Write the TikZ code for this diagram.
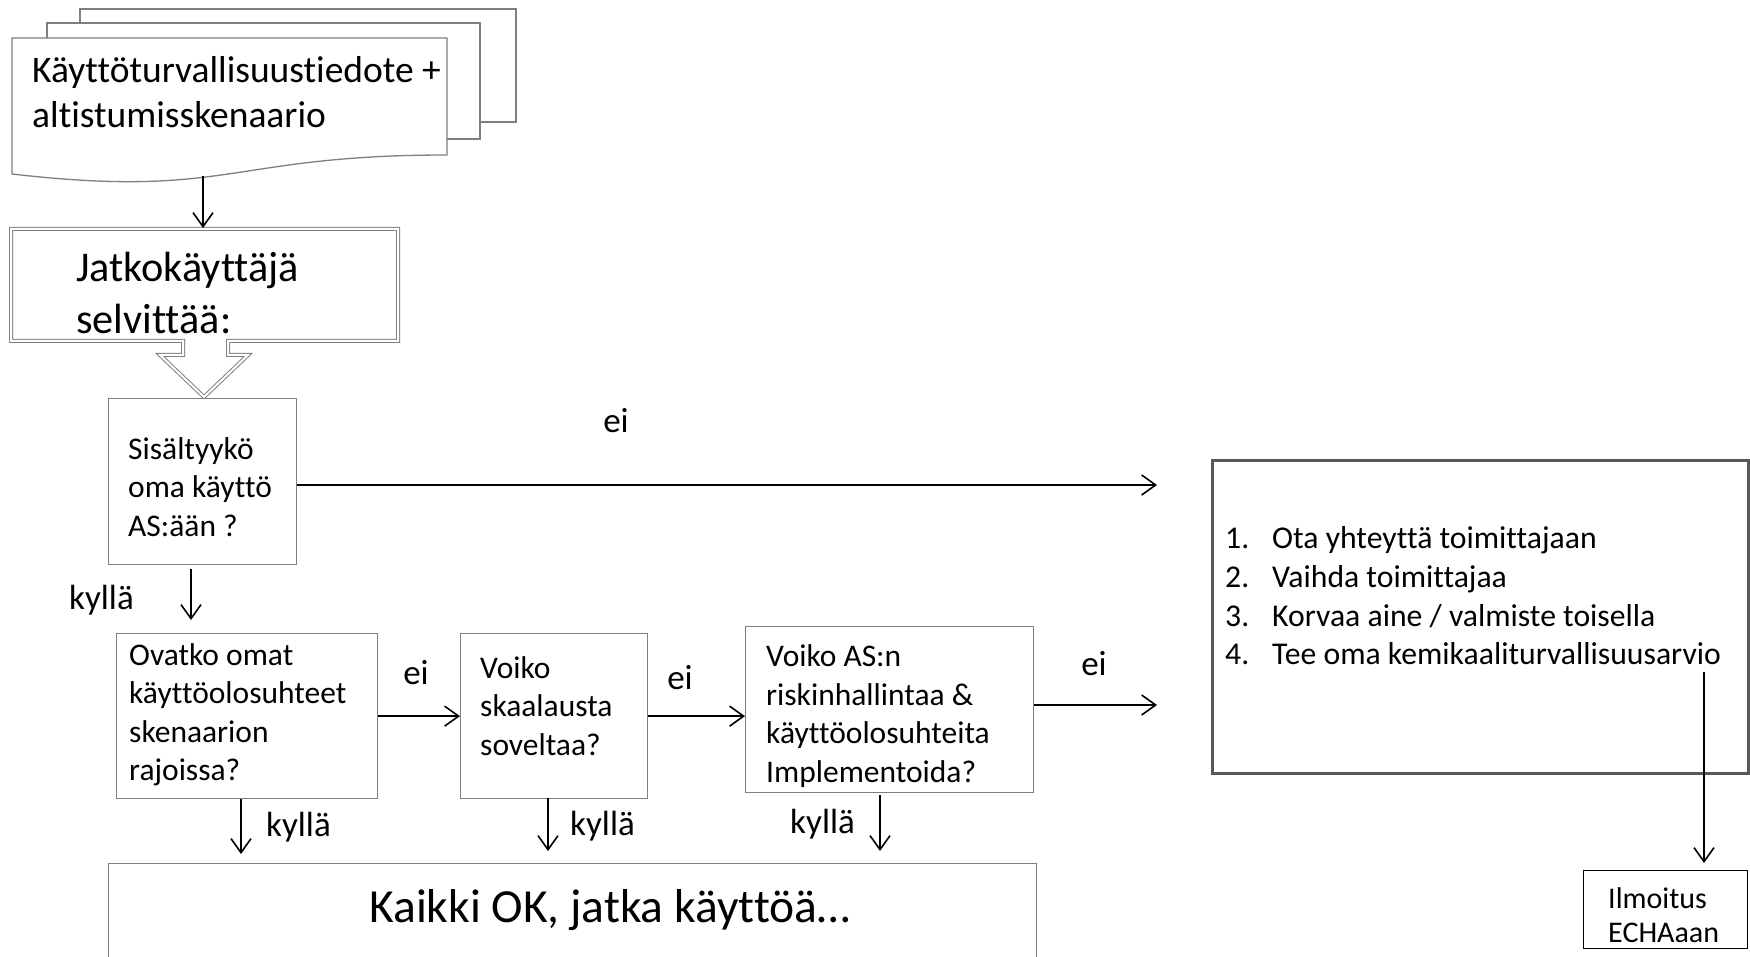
\documentclass[tikz,border=0pt]{standalone}
\usepackage{fontspec}
\setmainfont{Carlito}[Ligatures={NoCommon}]
\usetikzlibrary{arrows.meta,calc}
\definecolor{bord}{HTML}{7F7F7F}
\definecolor{dbord}{HTML}{595959}
\begin{document}
\begin{tikzpicture}[x=1pt,y=-1pt,
  box/.style={draw=bord,line width=1.3pt,fill=white,anchor=north west,inner sep=0pt},
  btext/.style={anchor=west,align=flush left,inner sep=0pt,font=\fontsize{31.5}{38.5}\selectfont},
  docline/.style={draw=bord,line width=1.3pt,fill=white},
  arr/.style={line width=1.6pt,-{Straight Barb[length=14pt,width=20pt,line width=1.6pt]}},
  lbl/.style={font=\fontsize{35}{40}\selectfont,inner sep=0pt}]
\useasboundingbox (0,0) rectangle (1750,957);

% multi-document
\draw[docline] (80,9) rectangle (516,122);
\draw[docline] (47,23) rectangle (480,139);
\draw[docline] (12,38) -- (447,38) -- (447,155) .. controls (229,155) and (229,199) .. (12,174) -- cycle;
\node[anchor=west,align=flush left,inner sep=0pt,font=\fontsize{37.5}{45}\selectfont] (doc) at (32,92)
  {Käyttöturvallisuustiedote +\\altistumisskenaario};

% callout
\draw[draw=bord,line width=1pt,double=white,double distance=2pt,fill=white]
  (11,229) -- (398,229) -- (398,341) -- (228,341) -- (228,355) -- (248,355) -- (204,397)
  -- (160,355) -- (183,355) -- (183,341) -- (11,341) -- cycle;
\node[anchor=west,align=flush left,inner sep=0pt,font=\fontsize{42.3}{52}\selectfont] (jk) at (76,293)
  {Jatkokäyttäjä\\selvittää:};
\coordinate (docb) at (203,176);
\coordinate (jktop) at (203,228);
\draw[arr] (docb) -- (jktop);

% decision boxes
\node[box,minimum width=188pt,minimum height=166pt] (sis) at (108,398) {};
\node[btext] (sist) at (128,487) {Sisältyykö\\oma käyttö\\AS:ään ?};
\node[box,minimum width=261pt,minimum height=165pt] (ov) at (116,633) {};
\node[btext] (ovt) at (129,715) {Ovatko omat\\käyttöolosuhteet\\skenaarion\\rajoissa?};
\node[box,minimum width=187pt,minimum height=165pt] (vo) at (460,633) {};
\node[btext] (vot) at (480,706) {Voiko\\skaalausta\\soveltaa?};
\node[box,minimum width=288pt,minimum height=166pt] (vas) at (745,626) {};
\node[btext] (vast) at (766,716) {Voiko AS:n\\riskinhallintaa \&\\käyttöolosuhteita\\Implementoida?};

% right box
\node[box,draw=dbord,line width=3pt,minimum width=536pt,minimum height=313pt] (rb) at (1211,459) {};
\node[anchor=west,align=flush left,inner sep=0pt,font=\fontsize{31.7}{38.6}\selectfont] (list) at (1225,596)
  {\makebox[47pt][l]{1.}Ota yhteyttä toimittajaan\\
   \makebox[47pt][l]{2.}Vaihda toimittajaa\\
   \makebox[47pt][l]{3.}Korvaa aine / valmiste toisella\\
   \makebox[47pt][l]{4.}Tee oma kemikaaliturvallisuusarvio};

% Ilmoitus
\node[box,draw=black,minimum width=164pt,minimum height=78pt] (ilm) at (1583,870) {};
\node[anchor=west,align=flush left,inner sep=0pt,font=\fontsize{30}{34}\selectfont] (ilmt) at (1608,915)
  {Ilmoitus\\ECHAaan};
\coordinate (rbar) at (1704,672);
\draw[arr,shorten >=7pt] (rbar) -- (rbar |- ilm.north);

% Kaikki OK
\node[box,minimum width=928pt,minimum height=140pt] (ok) at (108,863) {};
\node[inner sep=0pt,font=\fontsize{47.5}{52}\selectfont] (oktxt) at ($(ok.north)+(37,47)$) {Kaikki OK, jatka käyttöä…};

% connectors
\coordinate (eiend1) at (1157,485);
\draw[arr] (sis.east |- eiend1) -- (eiend1);
\node[lbl] at (616,421) {ei};
\draw[arr] (ov.east) -- (vo.west);
\node[lbl] at (416,673) {ei};
\draw[arr] (vo.east) -- (vo.east -| vas.west);
\node[lbl] at (680,678) {ei};
\coordinate (eiend2) at (1157,705);
\draw[arr] (vas.east |- eiend2) -- (eiend2);
\node[lbl] at (1094,664) {ei};

\coordinate (k1s) at (191,569); \coordinate (k1e) at (191,620);
\draw[arr] (k1s) -- (k1e);
\node[lbl,anchor=west] at (69,600) {kyllä};
\coordinate (k2s) at (241,799); \coordinate (k2e) at (241,854);
\draw[arr] (k2s) -- (k2e);
\node[lbl,anchor=west] at (266,827) {kyllä};
\coordinate (k3s) at (548,798); \coordinate (k3e) at (548,851);
\draw[arr] (k3s) -- (k3e);
\node[lbl,anchor=west] at (570,826) {kyllä};
\coordinate (k4s) at (880,795); \coordinate (k4e) at (880,851);
\draw[arr] (k4s) -- (k4e);
\node[lbl,anchor=east] at (855,824) {kyllä};
\end{tikzpicture}
\end{document}
